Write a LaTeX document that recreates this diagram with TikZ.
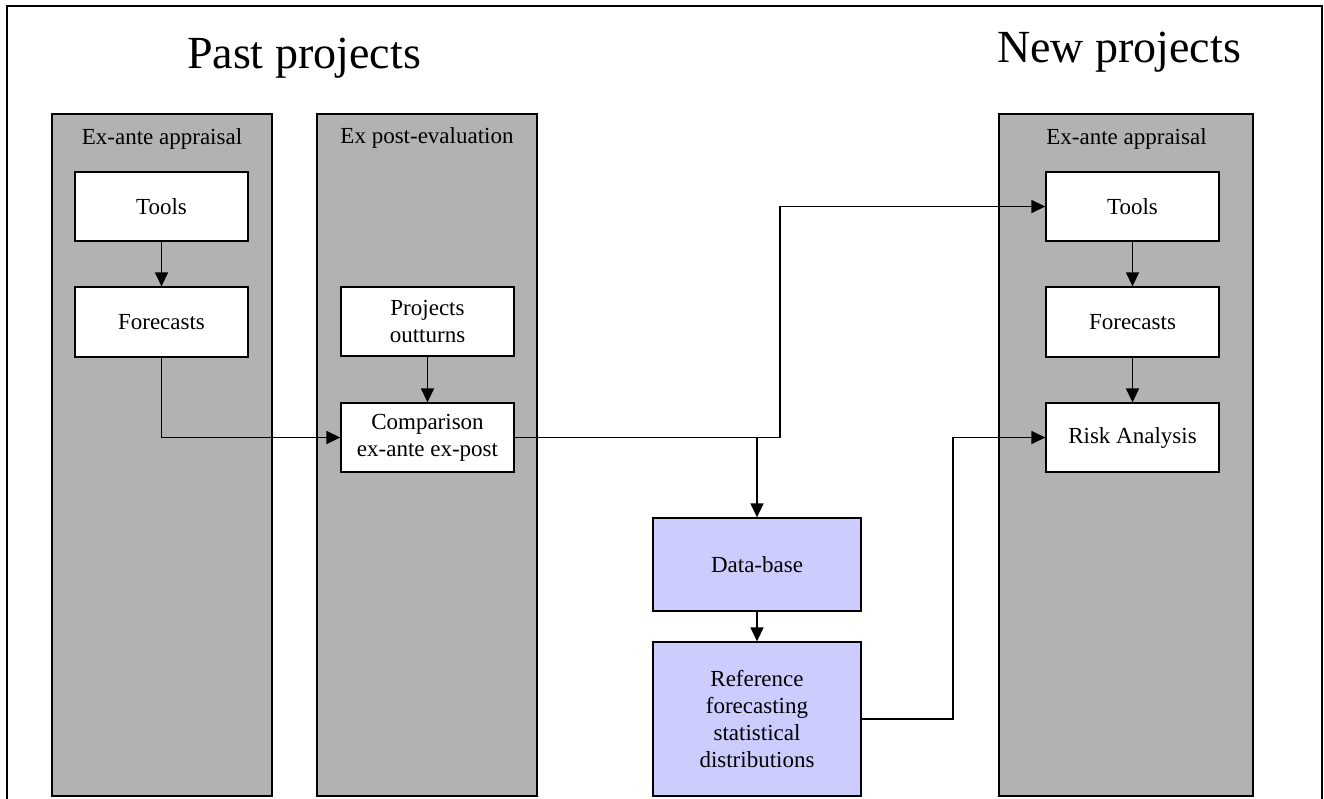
\documentclass[tikz,border=0pt]{standalone}
\usepackage{fontspec}
\setmainfont{Liberation Serif}
\usetikzlibrary{arrows.meta}
\definecolor{colgray}{RGB}{178,178,178}
\definecolor{dbblue}{RGB}{204,204,255}
\begin{document}
\begin{tikzpicture}[x=1pt,y=-1pt,
  column/.style={draw=black, line width=1.3pt, fill=colgray, inner sep=0pt},
  whitebox/.style={draw=black, line width=1.3pt, fill=white, inner sep=0pt, align=center,
    font=\fontsize{23}{27}\selectfont, minimum width=173pt, minimum height=69pt},
  bluebox/.style={draw=black, line width=1.3pt, fill=dbblue, inner sep=0pt, align=center,
    font=\fontsize{23}{27.3}\selectfont, minimum width=208pt},
  collabel/.style={anchor=base, inner sep=0pt, font=\fontsize{23}{27}\selectfont},
  title/.style={anchor=base, inner sep=0pt, font=\fontsize{46}{52}\selectfont},
  arr/.style={line width=1.4pt, -{Triangle[length=14pt,width=13pt]}},
  ln/.style={line width=1.4pt}]
\useasboundingbox (0,0) rectangle (1324,798);
\fill[white] (0,0) rectangle (1324,798);
% outer frame (open at the bottom)
\draw[line width=2.6pt] (7,800) -- (7,6) -- (1322,6) -- (1322,800);

% titles
\node[title] (tpast) at (304,68) {Past projects};
\node[title] (tnew) at (1119,62) {New projects};

% columns
\node[column, minimum width=220pt, minimum height=682pt] (col1) at (162,455) {};
\node[column, minimum width=220pt, minimum height=682pt] (col2) at (427,455) {};
\node[column, minimum width=254pt, minimum height=682pt] (col3) at (1126,455) {};
\node[collabel] (l1) at (162,144) {Ex-ante appraisal};
\node[collabel] (l2) at (427,143) {Ex post-evaluation};
\node[collabel] (l3) at (1126.5,144) {Ex-ante appraisal};

% past ex-ante boxes
\node[whitebox] (tl) at (161.5,206.5) {Tools};
\node[whitebox, minimum height=70pt] (fl) at (161.5,322) {Forecasts};
% ex post boxes
\node[whitebox] (po) at (427.5,321.5) {Projects\\outturns};
\node[whitebox] (cmp) at (427.5,437.5) {Comparison\\ex-ante ex-post};
% new ex-ante boxes
\node[whitebox] (tr) at (1132.5,206.5) {Tools};
\node[whitebox, minimum height=70pt] (fr) at (1132.5,322) {Forecasts};
\node[whitebox] (ra) at (1132.5,437.5) {Risk Analysis};
% database boxes
\node[bluebox, minimum height=93pt] (db) at (757,564.5) {Data-base};
\node[bluebox, minimum height=154pt] (ref) at (757,719) {Reference\\forecasting\\statistical\\distributions};

% junction coordinates
\coordinate (jt) at (780,0);
\coordinate (jr) at (953,0);

% connectors
\draw[arr] (tl.south) -- (fl.north);
\draw[arr] (fl.south) |- (cmp.west);
\draw[arr] (po.south) -- (cmp.north);
\draw[arr] (cmp.east) -| (db.north);
\draw[arr] (cmp.east) -- (cmp.east -| jt) |- (tr.west);
\draw[arr] (db.south) -- (ref.north);
\draw[arr] (tr.south) -- (fr.north);
\draw[arr] (fr.south) -- (ra.north);
\draw[arr] (ref.east) -- (ref.east -| jr) |- (ra.west);
\end{tikzpicture}
\end{document}
